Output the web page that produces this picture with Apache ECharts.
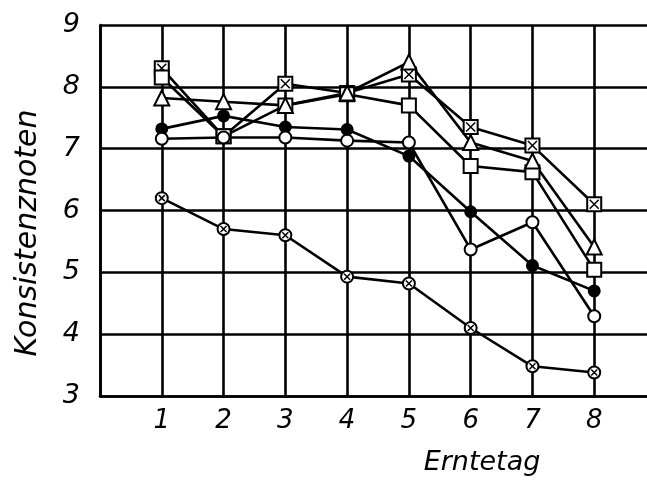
<!DOCTYPE html>
<html>
<head>
<meta charset="utf-8">
<script src="https://cdn.jsdelivr.net/npm/echarts@6/dist/echarts.min.js"></script>
<style>
  html, body { margin: 0; padding: 0; background: #fff; }
  #main { width: 647px; height: 480px; }
</style>
</head>
<body>
<div id="main"></div>
<script>
const days = [1, 2, 3, 4, 5, 6, 7, 8];
const crossedSquare = [8.3, 7.2, 8.05, 7.9, 8.2, 7.35, 7.05, 6.1];
const openSquare = [8.15, 7.2, 7.7, 7.88, 7.7, 6.72, 6.62, 5.04];
const triangle = [7.82, 7.76, 7.7, 7.9, 8.4, 7.1, 6.8, 5.41];
const filledDot = [7.32, 7.53, 7.35, 7.31, 6.88, 5.98, 5.11, 4.7];
const openCircle = [7.16, 7.18, 7.18, 7.13, 7.1, 5.37, 5.81, 4.29];
const crossedCircle = [6.2, 5.7, 5.6, 4.93, 4.82, 4.1, 3.48, 3.38];
const yTicks = [3, 4, 5, 6, 7, 8, 9];

const font = "DejaVu Sans";
const pts = (vals) => days.map((d, i) => [d, vals[i]]);

const line = (vals) => ({
  type: "line",
  data: pts(vals),
  showSymbol: false,
  lineStyle: { color: "#000", width: 2.6 },
  z: 2,
  silent: true,
});

// markers drawn later sit on top, so open squares cover crossed ones
// and triangles cover squares where they meet
let zNext = 3;
const marker = (vals, symbol, size, fill) => ({
  type: "scatter",
  data: pts(vals),
  symbol: symbol,
  symbolSize: size,
  itemStyle: { color: fill || "#fff", borderColor: "#000", borderWidth: 2, opacity: 1 },
  z: zNext++,
  silent: true,
});

// the little x inside the crossed markers
const cross = (vals, size) => ({
  type: "scatter",
  data: pts(vals),
  symbol: "path://M0,0L10,10M10,0L0,10",
  symbolSize: size,
  itemStyle: { color: "none", borderColor: "#000", borderWidth: 1.5, opacity: 1 },
  z: zNext++,
  silent: true,
});

const chart = echarts.init(document.getElementById("main"));
chart.setOption({
  animation: false,
  backgroundColor: "#fff",
  grid: { left: 100, right: -9, top: 25, bottom: 84, outerBoundsMode: "none", containLabel: false },
  xAxis: {
    type: "value",
    min: 0,
    max: 9,
    interval: 1,
    axisLine: { show: true, lineStyle: { color: "#000", width: 2.6 } },
    axisTick: { show: false },
    splitLine: { show: true, lineStyle: { color: "#000", width: 2.6 } },
    axisLabel: {
      margin: 12,
      fontFamily: font,
      fontStyle: "italic",
      fontSize: 26,
      color: "#000",
      formatter: (v) => (days.includes(v) ? String(v) : ""),
    },
  },
  yAxis: {
    type: "value",
    min: yTicks[0],
    max: yTicks[yTicks.length - 1],
    interval: 1,
    axisLine: { show: true, lineStyle: { color: "#000", width: 2.6 } },
    axisTick: { show: false },
    splitLine: { show: true, lineStyle: { color: "#000", width: 2.6 } },
    axisLabel: {
      margin: 20,
      fontFamily: font,
      fontStyle: "italic",
      fontSize: 27,
      color: "#000",
    },
  },
  graphic: [
    {
      type: "text",
      x: 28,
      y: 233,
      rotation: Math.PI / 2,
      style: {
        text: "Konsistenznoten",
        fontFamily: font,
        fontStyle: "italic",
        fontSize: 30,
        fill: "#000",
        align: "center",
        verticalAlign: "middle",
      },
    },
    {
      type: "text",
      x: 482,
      y: 463,
      style: {
        text: "Erntetag",
        fontFamily: font,
        fontStyle: "italic",
        fontSize: 27,
        fill: "#000",
        align: "center",
        verticalAlign: "middle",
      },
    },
  ],
  series: [
    line(crossedCircle),
    line(openCircle),
    line(filledDot),
    line(triangle),
    line(openSquare),
    line(crossedSquare),
    marker(crossedSquare, "rect", 14),
    cross(crossedSquare, 9),
    marker(openSquare, "rect", 14),
    marker(triangle, "triangle", 15),
    marker(filledDot, "circle", 11, "#000"),
    marker(openCircle, "circle", 12),
    marker(crossedCircle, "circle", 12),
    cross(crossedCircle, 6),
  ],
});
</script>
</body>
</html>
